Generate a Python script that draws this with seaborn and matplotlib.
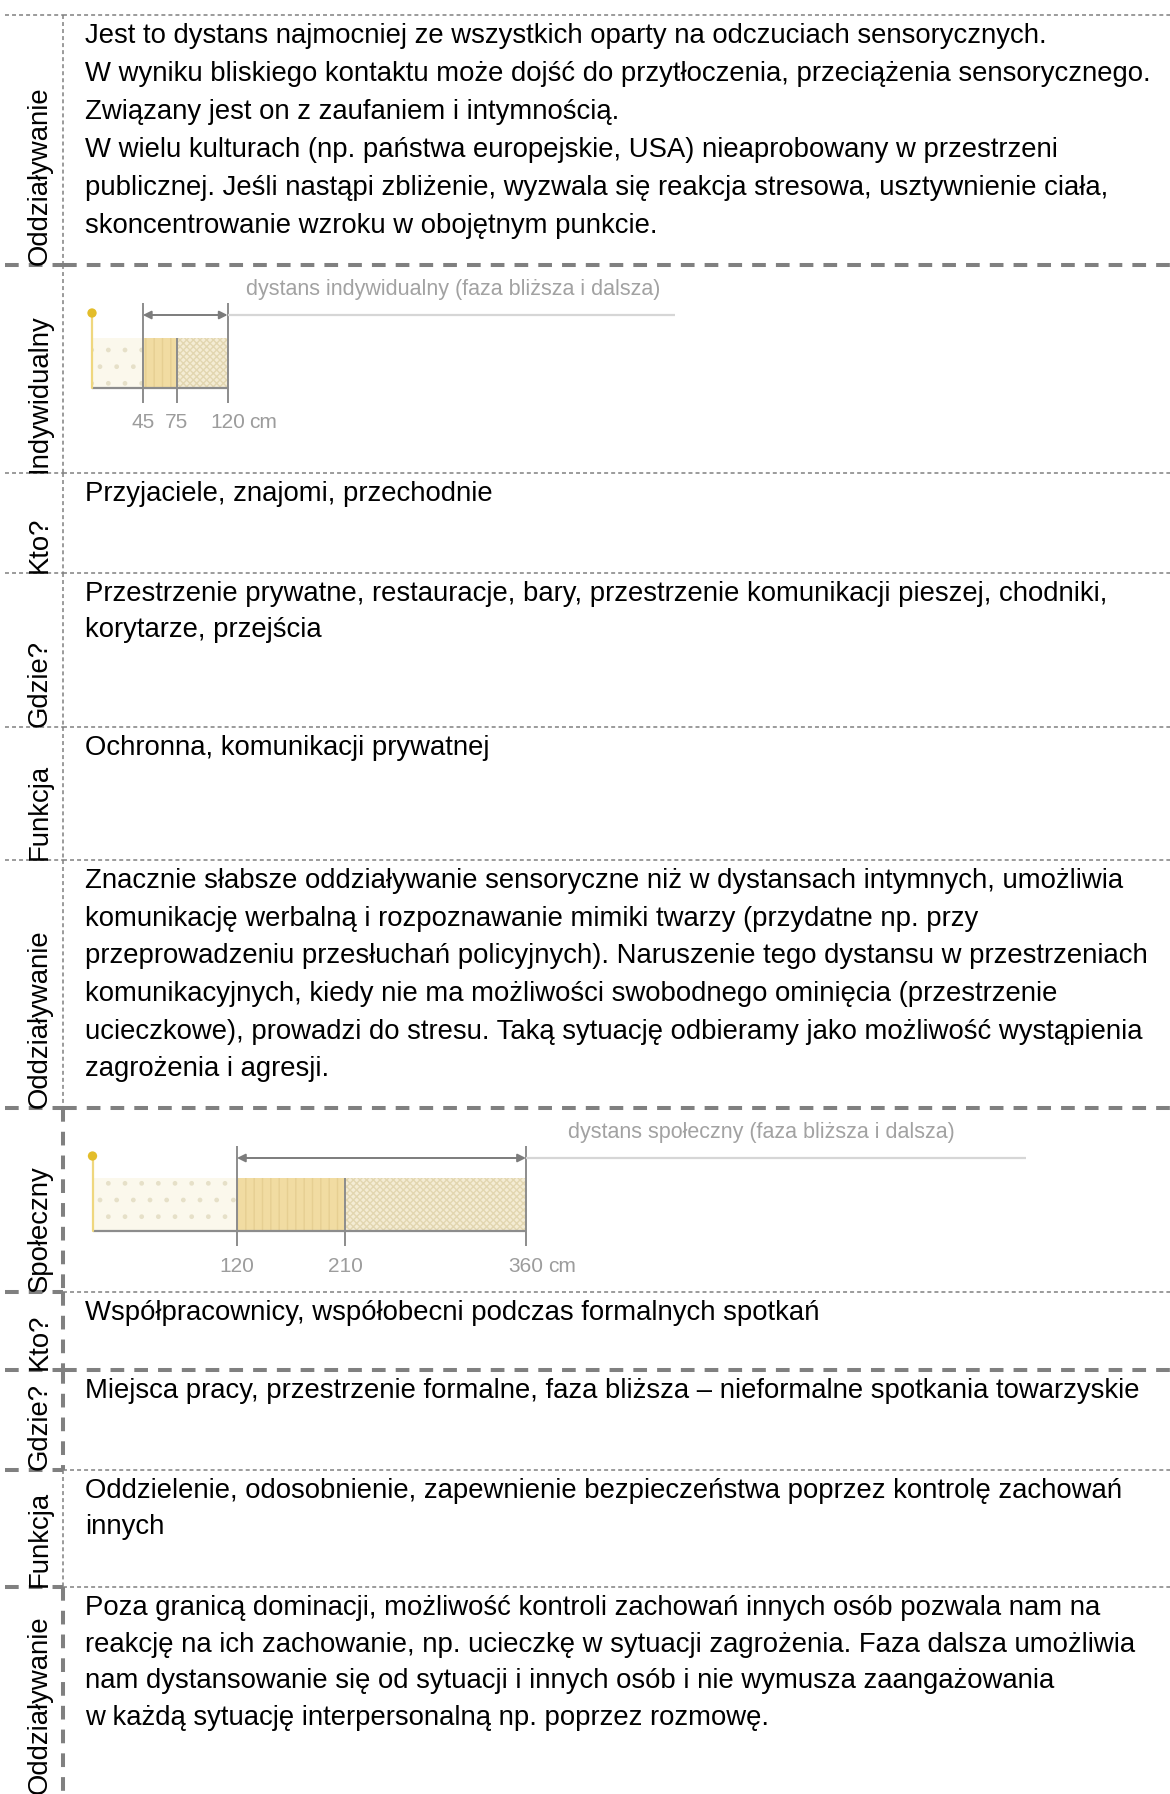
import numpy as np
import seaborn as sns
import matplotlib.pyplot as plt

# ---- data -------------------------------------------------------------
row_labels = ["Oddziaływanie", "Indywidualny", "Kto?", "Gdzie?", "Funkcja",
              "Oddziaływanie", "Społeczny", "Kto?", "Gdzie?", "Funkcja",
              "Oddziaływanie"]

row_texts = [
    ["Jest to dystans najmocniej ze wszystkich oparty na odczuciach sensorycznych.",
     "W wyniku bliskiego kontaktu może dojść do przytłoczenia, przeciążenia sensorycznego.",
     "Związany jest on z zaufaniem i intymnością.",
     "W wielu kulturach (np. państwa europejskie, USA) nieaprobowany w przestrzeni",
     "publicznej. Jeśli nastąpi zbliżenie, wyzwala się reakcja stresowa, usztywnienie ciała,",
     "skoncentrowanie wzroku w obojętnym punkcie."],
    [],
    ["Przyjaciele, znajomi, przechodnie"],
    ["Przestrzenie prywatne, restauracje, bary, przestrzenie komunikacji pieszej, chodniki,",
     "korytarze, przejścia"],
    ["Ochronna, komunikacji prywatnej"],
    ["Znacznie słabsze oddziaływanie sensoryczne niż w dystansach intymnych, umożliwia",
     "komunikację werbalną i rozpoznawanie mimiki twarzy (przydatne np. przy",
     "przeprowadzeniu przesłuchań policyjnych). Naruszenie tego dystansu w przestrzeniach",
     "komunikacyjnych, kiedy nie ma możliwości swobodnego ominięcia (przestrzenie",
     "ucieczkowe), prowadzi do stresu. Taką sytuację odbieramy jako możliwość wystąpienia",
     "zagrożenia i agresji."],
    [],
    ["Współpracownicy, współobecni podczas formalnych spotkań"],
    ["Miejsca pracy, przestrzenie formalne, faza bliższa – nieformalne spotkania towarzyskie"],
    ["Oddzielenie, odosobnienie, zapewnienie bezpieczeństwa poprzez kontrolę zachowań",
     "innych"],
    ["Poza granicą dominacji, możliwość kontroli zachowań innych osób pozwala nam na",
     "reakcję na ich zachowanie, np. ucieczkę w sytuacji zagrożenia. Faza dalsza umożliwia",
     "nam dystansowanie się od sytuacji i innych osób i nie wymusza zaangażowania",
     "w każdą sytuację interpersonalną np. poprzez rozmowę."],
]

# distance diagrams (cm)
ind_ticks = [45, 75, 120]
ind_labels = ["45", "75", "120"]
ind_title = "dystans indywidualny (faza bliższa i dalsza)"

soc_ticks = [120, 210, 360]
soc_labels = ["120", "210", "360"]
soc_title = "dystans społeczny (faza bliższa i dalsza)"

# ---- layout (page pixels) ---------------------------------------------
W, H = 1170, 1794
row_edges = [15, 265, 473, 573, 727, 860, 1108, 1292, 1370, 1470, 1587, 1794]
line_gap = [38, 0, 36, 36, 36, 37.7, 0, 36, 36, 36, 36.7]
vert_thick = [False, False, False, False, False, False, True, True, True, False, True]
# horizontal borders: (y, left part thick, right part thick)
borders = [(15, False, False), (265, True, True), (473, False, False),
           (573, False, False), (727, False, False), (860, False, False),
           (1108, True, True), (1292, True, False), (1370, True, True),
           (1470, True, False), (1587, True, False)]
COL_X = 63
TEXT_X = 85

sns.set_theme(style="white")
plt.rcParams['font.family'] = ['Liberation Sans', 'DejaVu Sans']

DPI = 100
fig = plt.figure(figsize=(W / DPI, H / DPI), dpi=DPI)
ax = fig.add_axes([0, 0, 1, 1])
ax.set_xlim(0, W)
ax.set_ylim(H, 0)
ax.axis("off")

GRAY = "#808080"
thin = dict(color=GRAY, lw=1.1, linestyle=(0, (2.6, 2.0)))
thick = dict(color=GRAY, lw=2.9, linestyle=(0, (3.4, 2.5)))

for y, lt, rt in borders:
    ax.plot([5, COL_X], [y, y], **(thick if lt else thin))
    ax.plot([COL_X, W], [y, y], **(thick if rt else thin))

FS = 19.8
for i, lab in enumerate(row_labels):
    top, bot = row_edges[i], row_edges[i + 1]
    ax.plot([COL_X, COL_X], [top, bot], **(thick if vert_thick[i] else thin))
    ax.text(40, bot, lab, rotation=90, ha="center", va="bottom",
            fontsize=FS, color="black")
    for k, line in enumerate(row_texts[i]):
        ax.text(TEXT_X, top + 28 + k * line_gap[i], line, ha="left",
                va="baseline", fontsize=FS, color="black")


def draw_distance(top, bot, ticks, labels, title, px_per_cm, origin_px,
                  title_dx, line_end, rect_top):
    # axes spans the row; x in cm, y in pixels from the row top
    x0 = COL_X / W
    y0 = 1 - bot / H
    dax = fig.add_axes([x0, y0, 1 - x0, (bot - top) / H])
    dax.set_xlim(-(origin_px - COL_X) / px_per_cm, (W - origin_px) / px_per_cm)
    dax.set_ylim(bot - top, 0)
    dax.axis("off")
    dax.patch.set_alpha(0)

    base_y, dot_y, arrow_y = 123, 48, 50
    edges = [0] + ticks
    lefts = edges[:-1]
    widths = np.diff(edges)
    fills = ["#fbf8ec", "#f1dca2", "#f4ecd4"]
    hatches = [".", "||", "xxxxx"]
    hcol = ["#e6e0c8", "#e6cf92", "#e2d6b0"]
    for l, w, fc, ht, hc in zip(lefts, widths, fills, hatches, hcol):
        dax.barh((rect_top + base_y) / 2, w, left=l, height=base_y - rect_top,
                 color=fc, edgecolor=hc, hatch=ht, linewidth=0)
    dax.hlines(base_y, 0, ticks[-1], color="#8c8c8c", lw=1.6)
    dax.plot([0, 0], [dot_y, base_y], color="#efd77e", lw=1.6)
    sns.scatterplot(x=[0], y=[dot_y], ax=dax, s=45, color="#e3bd2a",
                    edgecolor="none", zorder=5)
    tops = [arrow_y - 12, rect_top, arrow_y - 12]
    for t, tp in zip(ticks, tops):
        dax.vlines(t, tp, base_y + 15, color="#8c8c8c", lw=1.4)
    dax.hlines(arrow_y, ticks[-1], line_end, color="#d6d6d6", lw=1.6)
    dax.annotate("", xy=(ticks[0], arrow_y), xytext=(ticks[-1], arrow_y),
                 arrowprops=dict(arrowstyle="<|-|>", color="#7c7c7c", lw=1.4,
                                 mutation_scale=12, shrinkA=0, shrinkB=0))
    dax.text(ticks[-1] + title_dx, 24, title, ha="left", va="center",
             fontsize=15.5, color="#a2a2a2")
    for t, lab in zip(ticks, labels):
        dax.text(t, 158, lab, ha="center", va="center", fontsize=15,
                 color="#9c9c9c")
    dax.annotate("cm", xy=(ticks[-1], 158), xytext=(22, 0),
                 textcoords="offset pixels", ha="left", va="center",
                 fontsize=15, color="#9c9c9c")


draw_distance(265, 473, ind_ticks, ind_labels, ind_title, 1.13, 92,
              16, 516, 73)
draw_distance(1108, 1292, soc_ticks, soc_labels, soc_title, 1.204, 92.5,
              35, 775, 70)

fig.savefig("out.png", dpi=DPI, facecolor="white")
